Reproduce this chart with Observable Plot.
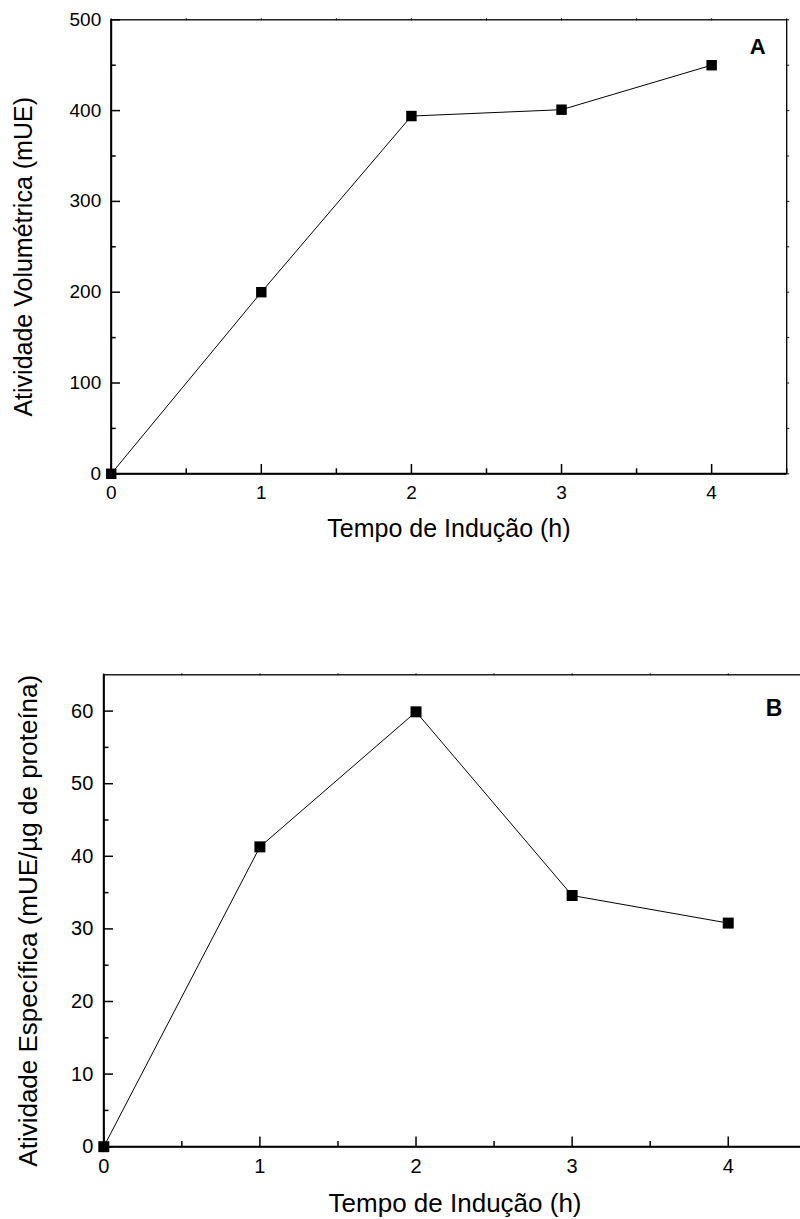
<!DOCTYPE html>
<html>
<head>
<meta charset="utf-8">
<script src="https://cdn.jsdelivr.net/npm/d3@7"></script>
<script src="https://cdn.jsdelivr.net/npm/@observablehq/plot@0.6"></script>
<style>
  html, body { margin: 0; padding: 0; background: white; }
  #chart { width: 800px; overflow: hidden; }
  #chart svg { display: block; max-width: none; }
</style>
</head>
<body>
<div id="chart"></div>
<script>
// Induction time (h)
const tempo = [0, 1, 2, 3, 4];
// Panel A: volumetric activity (mUE)
const atividadeVolumetrica = [0, 200, 394, 401, 450];
// Panel B: specific activity (mUE/µg protein)
const atividadeEspecifica = [0, 41.3, 59.9, 34.6, 30.8];

// Tick values
const xTicks = [0, 1, 2, 3, 4];
const xMinor = [0.5, 1.5, 2.5, 3.5, 4.5];
const yTicksA = [0, 100, 200, 300, 400, 500];
const yMinorA = [50, 150, 250, 350, 450];
const yTicksB = [0, 10, 20, 30, 40, 50, 60];
const yMinorB = [5, 15, 25, 35, 45, 55];

const xTitle = "Tempo de Indução (h)";
const yTitleA = "Atividade Volumétrica (mUE)";
const yTitleB = "Atividade Específica (mUE/µg de proteína)";

const font = "'Liberation Sans', Arial, Helvetica, sans-serif";
const plain = d => String(d);

function panel({values, yDomain, yTicks, yMinor, yTitle, letter, height, margins, sizes}) {
  const rows = tempo.map((t, i) => ({tempo: t, valor: values[i]}));
  const s = sizes;
  return Plot.plot({
    width: 800,
    height,
    marginTop: margins.top,
    marginRight: margins.right,
    marginBottom: margins.bottom,
    marginLeft: margins.left,
    style: {fontFamily: font, background: "white", color: "black", overflow: "hidden"},
    x: {domain: [0, 4.5], label: null},
    y: {domain: yDomain, label: null},
    marks: [
      Plot.frame({stroke: "black", strokeWidth: 1.3}),
      // inward ticks on bottom and left
      Plot.axisX(xTicks, {anchor: "bottom", tickSize: -s.major, fill: "none", strokeWidth: 1.5}),
      Plot.axisX(xMinor, {anchor: "bottom", tickSize: -s.minor, fill: "none", strokeWidth: 1.5}),
      Plot.axisY(yTicks, {anchor: "left", tickSize: -s.major, fill: "none", strokeWidth: 1.5}),
      Plot.axisY(yMinor, {anchor: "left", tickSize: -s.minor, fill: "none", strokeWidth: 1.5}),
      // small ticks on the top and right edges
      Plot.axisX(xTicks.concat(xMinor), {anchor: "top", tickSize: 2, fill: "none", strokeWidth: 1}),
      Plot.axisY(yTicks.concat(yMinor), {anchor: "right", tickSize: 2, fill: "none", strokeWidth: 1}),
      // tick labels
      Plot.axisX(xTicks, {anchor: "bottom", tickSize: 0, tickPadding: s.xPad, tickFormat: plain, label: null, fontSize: s.tick}),
      Plot.axisY(yTicks, {anchor: "left", tickSize: 0, tickPadding: s.yPad, tickFormat: plain, label: null, fontSize: s.tick}),
      Plot.ruleX([0], {stroke: "black", strokeWidth: 2}),
      Plot.ruleY([yDomain[0]], {stroke: "black", strokeWidth: 2}),
      // data
      Plot.line(rows, {x: "tempo", y: "valor", stroke: "black", strokeWidth: 1}),
      Plot.dot(rows, {x: "tempo", y: "valor", symbol: "square", r: s.r, fill: "black", stroke: "none"}),
      // axis titles
      Plot.text([xTitle], {text: d => d, frameAnchor: "bottom", textAnchor: "middle", dy: s.xTitleDy, lineAnchor: "middle", fontSize: s.title}),
      Plot.text([yTitle], {text: d => d, frameAnchor: "left", textAnchor: "middle", rotate: -90, dx: s.yTitleDx, dy: s.yTitleDy, lineAnchor: "middle", fontSize: s.title}),
      // panel letter
      Plot.text([letter], {text: d => d, frameAnchor: "top-right", textAnchor: "end", lineAnchor: "top", dx: s.letterDx, dy: s.letterDy, fontSize: s.letter, fontWeight: "bold"})
    ]
  });
}

const chart = document.getElementById("chart");

chart.append(panel({
  values: atividadeVolumetrica,
  yDomain: [0, 500],
  yTicks: yTicksA,
  yMinor: yMinorA,
  yTitle: yTitleA,
  letter: "A",
  height: 580,
  margins: {top: 19.3, right: 13.8, bottom: 106.7, left: 110.7},
  sizes: {major: 9.3, minor: 5, tick: 19, title: 25, letter: 22, r: 5.9,
          xPad: 11.5, yPad: 10, xTitleDy: 54.7, yTitleDx: -87, yTitleDy: 10,
          letterDx: -21, letterDy: 19}
}));

chart.append(panel({
  values: atividadeEspecifica,
  yDomain: [0, 65],
  yTicks: yTicksB,
  yMinor: yMinorB,
  yTitle: yTitleB,
  letter: "B",
  height: 639,
  margins: {top: 94.3, right: -5.8, bottom: 72.8, left: 103.3},
  sizes: {major: 9.7, minor: 5.2, tick: 20, title: 26, letter: 23, r: 6.2,
          xPad: 12, yPad: 10.5, xTitleDy: 57, yTitleDx: -75, yTitleDy: 10,
          letterDx: -24, letterDy: 25}
}));
</script>
</body>
</html>
